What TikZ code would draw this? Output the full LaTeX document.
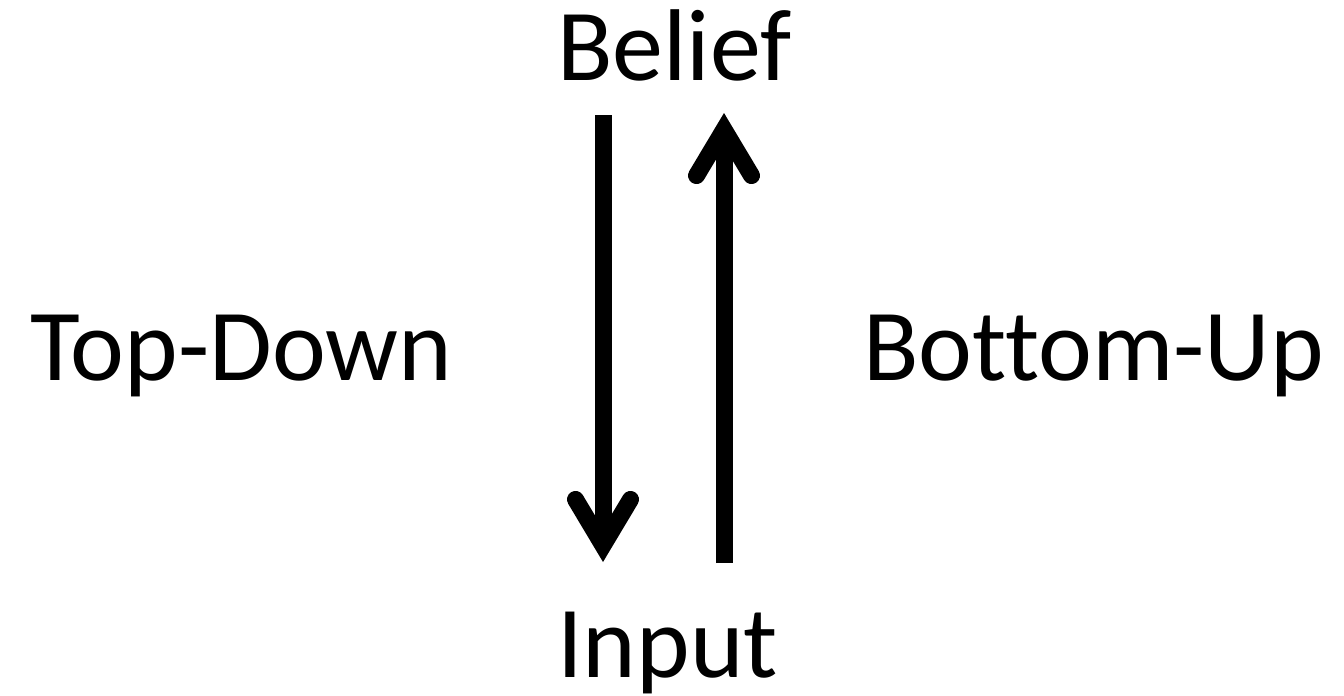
\documentclass[tikz,border=0pt]{standalone}
\usepackage{fontspec}
\setmainfont{Carlito}[Ligatures=CommonOff]
\usetikzlibrary{arrows.meta}
\begin{document}
\begin{tikzpicture}[x=1pt,y=-1pt,
  lbl/.style={inner sep=0pt,anchor=base west,font=\fontsize{102}{114}\selectfont},
  flow/.style={line width=17pt,
    -{Straight Barb[length=46pt,width=55pt,line cap=round,line join=miter]}}]
\useasboundingbox (0,0) rectangle (1344,696);
\node[lbl] (belief) at (557,80) {Belief};
\node[lbl] (input) at (557,677) {Input};
\node[lbl] (td) at (30,380) {Top-Down};
\node[lbl] (bu) at (863,380) {Bottom-Up};
\coordinate (dtop) at (603,115);
\coordinate (dbot) at (603,562);
\coordinate (ubot) at (724,563);
\coordinate (utop) at (724,113);
\draw[flow] (dtop) -- (dbot);
\draw[flow] (ubot) -- (utop);
\end{tikzpicture}
\end{document}
